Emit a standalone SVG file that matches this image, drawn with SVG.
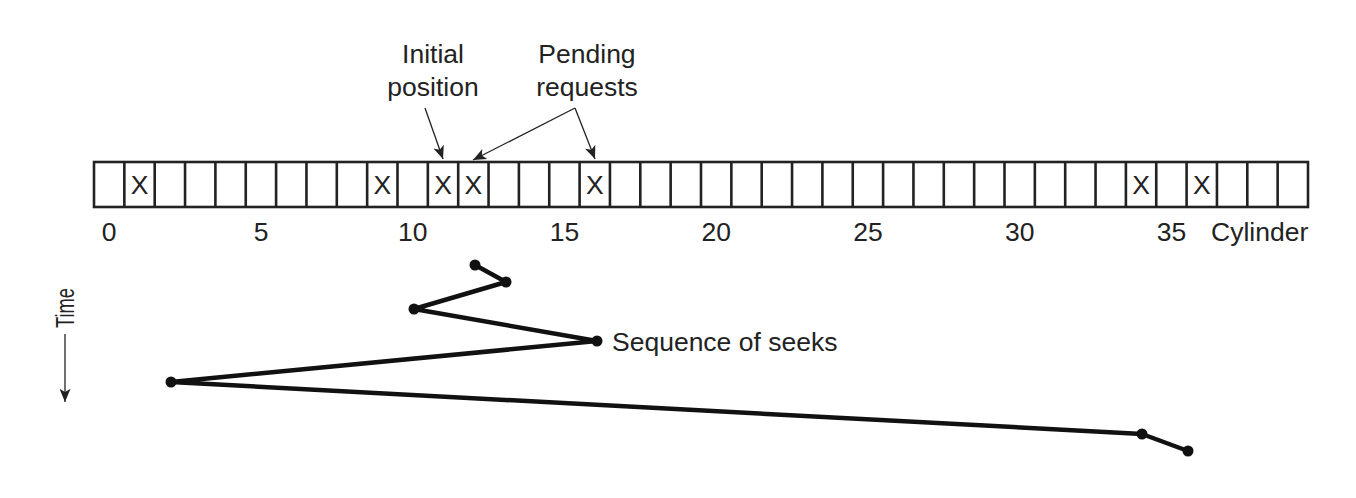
<svg xmlns="http://www.w3.org/2000/svg" width="1356" height="498" viewBox="0 0 1356 498">
<style>
text{font-family:"Liberation Sans",Arial,sans-serif;fill:#222;}
.t{font-size:26.5px;}
.c{text-anchor:middle;}
.cell{fill:#fff;stroke:#222;stroke-width:2.6;}
.thin{stroke:#222;stroke-width:1.3;fill:none;}
.seek{stroke:#111;stroke-width:4.5;fill:none;stroke-linejoin:round;}
.dot{fill:#111;}
</style>
<defs>
<marker id="ah2" viewBox="0 0 12 10" refX="12" refY="5" markerWidth="14" markerHeight="11" markerUnits="userSpaceOnUse" orient="auto">
<path d="M0,0 L12,5 L0,10 L3,5 Z" fill="#222"/>
</marker>
</defs>
<g id="cylinders">
<rect class="cell" x="94" y="162" width="1214" height="45"/>
<path class="cell" d="M124.35,162V207M154.7,162V207M185.05,162V207M215.4,162V207M245.75,162V207M276.1,162V207M306.45,162V207M336.8,162V207M367.15,162V207M397.5,162V207M427.85,162V207M458.2,162V207M488.55,162V207M518.9,162V207M549.25,162V207M579.6,162V207M609.95,162V207M640.3,162V207M670.65,162V207M701,162V207M731.35,162V207M761.7,162V207M792.05,162V207M822.4,162V207M852.75,162V207M883.1,162V207M913.45,162V207M943.8,162V207M974.15,162V207M1004.5,162V207M1034.85,162V207M1065.2,162V207M1095.55,162V207M1125.9,162V207M1156.25,162V207M1186.6,162V207M1216.95,162V207M1247.3,162V207M1277.65,162V207"/>
<g class="t c">
<text x="139.5" y="194">X</text>
<text x="382.3" y="194">X</text>
<text x="443" y="194">X</text>
<text x="473.4" y="194">X</text>
<text x="594.8" y="194">X</text>
<text x="1141" y="194">X</text>
<text x="1201.8" y="194">X</text>
</g>
<g class="t c">
<text x="109.2" y="241">0</text>
<text x="261" y="241">5</text>
<text x="412.7" y="241">10</text>
<text x="564.4" y="241">15</text>
<text x="716.2" y="241">20</text>
<text x="868" y="241">25</text>
<text x="1019.7" y="241">30</text>
<text x="1171.4" y="241">35</text>
</g>
<text class="t" x="1211" y="241">Cylinder</text>
</g>
<g id="label-initial">
<text class="t c" x="433" y="63">Initial</text>
<text class="t c" x="433" y="96">position</text>
</g>
<g id="label-pending">
<text class="t c" x="587" y="63">Pending</text>
<text class="t c" x="587" y="96">requests</text>
</g>
<g id="time-axis">
<text class="t" transform="translate(74,328) rotate(-90)" textLength="40" lengthAdjust="spacingAndGlyphs">Time</text>
<line class="thin" x1="65" y1="334" x2="65" y2="402" marker-end="url(#ah2)"/>
</g>
<g id="connectors">
<line class="thin" x1="425" y1="108" x2="443" y2="159" marker-end="url(#ah2)"/>
<line class="thin" x1="575" y1="108" x2="473" y2="160" marker-end="url(#ah2)"/>
<line class="thin" x1="575" y1="108" x2="595" y2="159" marker-end="url(#ah2)"/>
</g>
<g id="seeks">
<polyline class="seek" points="475,265 506,282 414,309 597,341 171,382 1142,434 1188,451"/>
<circle class="dot" cx="475" cy="265" r="5.5"/>
<circle class="dot" cx="506" cy="282" r="5.5"/>
<circle class="dot" cx="414" cy="309" r="5.5"/>
<circle class="dot" cx="597" cy="341" r="5.5"/>
<circle class="dot" cx="171" cy="382" r="5.5"/>
<circle class="dot" cx="1142" cy="434" r="5.5"/>
<circle class="dot" cx="1188" cy="451" r="5.5"/>
<text class="t" x="612" y="351">Sequence of seeks</text>
</g>
</svg>
